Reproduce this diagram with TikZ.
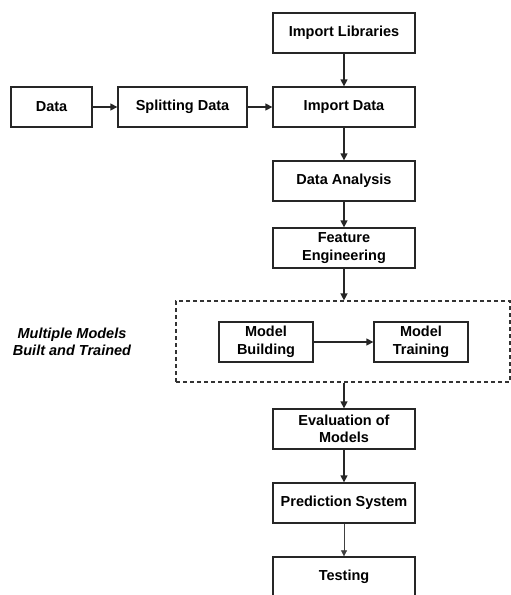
\documentclass[tikz,border=0pt]{standalone}
\usepackage{fontspec}
\setmainfont{Liberation Sans}
\usetikzlibrary{arrows.meta}
\begin{document}
\begin{tikzpicture}[x=1pt,y=-1pt,
  box/.style={draw=black!85, line width=1.3pt, minimum height=40pt, inner sep=2pt,
    font=\fontsize{14.5}{17.5}\selectfont\bfseries, align=center},
  wide/.style={box, minimum width=142pt},
  arr/.style={-{Triangle[length=7pt,width=7pt]}, line width=1.3pt, draw=black!85},
  thinarr/.style={-{Triangle[length=6pt,width=6pt]}, line width=0.7pt, draw=black!75}]
\useasboundingbox (0,0) rectangle (511,595);
\clip (0,0) rectangle (511,595);
\node[wide] (lib) at (344,33) {Import Libraries};
\node[box, minimum width=81pt] (data) at (51.5,107) {Data};
\node[box, minimum width=129pt] (split) at (182.5,107) {Splitting Data};
\node[wide] (imp) at (344,107) {Import Data};
\node[wide] (ana) at (344,181) {Data Analysis};
\node[wide] (feat) at (344,248) {Feature\\Engineering};
\node[draw=black!80, dashed, dash pattern=on 4pt off 3pt, line width=1.2pt,
  minimum width=334pt, minimum height=81pt, inner sep=0pt] (grp) at (343,341.5) {};
\node[box, minimum width=94pt] (mb) at (266,342) {Model\\Building};
\node[box, minimum width=94pt] (mt) at (421,342) {Model\\Training};
\node[font=\fontsize{14.5}{17.5}\selectfont\bfseries\itshape, align=center] (lbl) at (72,342) {Multiple Models\\Built and Trained};
\node[wide] (eval) at (344,429) {Evaluation of\\Models};
\node[wide] (pred) at (344,503) {Prediction System};
\node[wide] (test) at (344,577) {Testing};
\draw[arr] (lib) -- (imp);
\draw[arr] (data) -- (split);
\draw[arr] (split) -- (imp);
\draw[arr] (imp) -- (ana);
\draw[arr] (ana) -- (feat);
\draw[arr] (feat.south) -- (feat.south |- grp.north);
\draw[arr] (mb) -- (mt);
\draw[arr] (eval.north |- grp.south) -- (eval.north);
\draw[arr] (eval) -- (pred);
\draw[thinarr] (pred) -- (test);
\end{tikzpicture}
\end{document}
